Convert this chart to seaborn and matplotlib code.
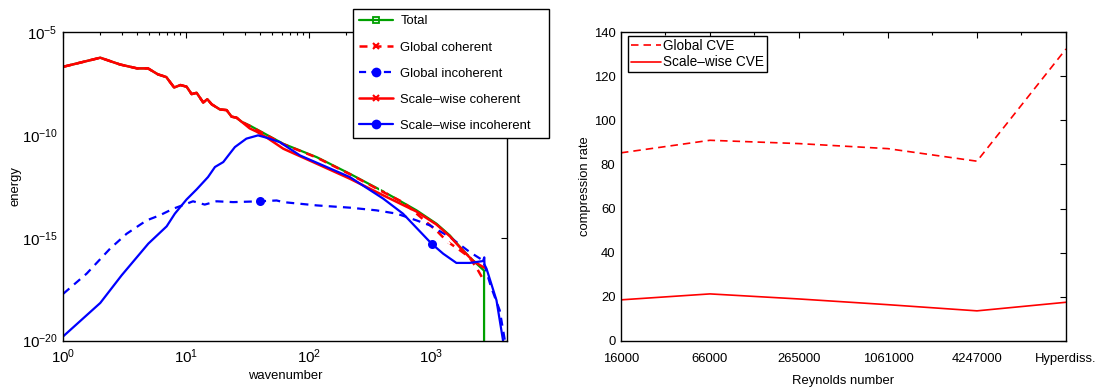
import numpy as np
import pandas as pd
import matplotlib
matplotlib.use("Agg")
import matplotlib.pyplot as plt
from matplotlib.lines import Line2D
from matplotlib.ticker import LogLocator, FixedLocator, NullLocator, NullFormatter
import seaborn as sns

# ---------------- energy spectra (wavenumber, log10 energy) ----------------
# part shared by the total and both coherent spectra at large scales
k_shared = [1, 2, 2.9, 4, 4.9, 5.9, 6.9, 8, 9, 10.1, 11.1, 12.2, 13.8, 14.9,
            16.2, 18.9, 21.4, 23.5, 25.8, 28.4]
logE_shared = [-6.67, -6.23, -6.56, -6.75, -6.75, -7.04, -7.17, -7.68, -7.56,
               -7.64, -8.0, -7.94, -8.41, -8.25, -8.5, -8.75, -8.78, -9.1,
               -9.15, -9.35]

k_total = [33, 62, 116, 216, 404, 755, 1097, 1409, 1808, 2181, 2630, 2680, 2680]
logE_total = [-9.53, -10.42, -11.07, -11.88, -12.74, -13.66, -14.31, -14.88,
              -15.61, -16.1, -16.55, -16.6, -21.0]

k_glob_coh = [33, 62, 116, 216, 404, 600, 855, 1100, 1340, 1700, 2024, 2350, 2680]
logE_glob_coh = [-9.55, -10.44, -11.09, -11.9, -12.77, -13.3, -14.1, -14.65,
                 -15.17, -15.6, -15.93, -16.5, -17.1]

k_glob_inc = [1, 1.55, 2.4, 3.28, 4.77, 6.12, 7.87, 9.8, 11.4, 14.2, 17.7, 24.2,
              40, 54.7, 62, 116, 216, 355, 519, 755, 968, 1409, 2047, 2630,
              3055, 3595, 3960, 4096]
logE_glob_inc = [-17.72, -16.74, -15.53, -14.8, -14.15, -13.9, -13.58, -13.37,
                 -13.22, -13.38, -13.22, -13.26, -13.22, -13.18, -13.26, -13.42,
                 -13.53, -13.66, -13.82, -14.15, -14.39, -14.96, -15.69, -16.1,
                 -17.39, -18.53, -20.0, -21.0]

k_sw_coh = [33, 37.6, 45, 62, 116, 216, 404, 755, 1097, 1409, 1808, 2181, 2680]
logE_sw_coh = [-9.67, -9.83, -10.1, -10.66, -11.39, -12.12, -12.93, -13.72,
               -14.35, -14.92, -15.63, -16.12, -16.45]

k_sw_inc = [1, 2, 2.99, 4.93, 6.95, 8.11, 10.1, 12.2, 15.1, 17.2, 20.1, 22.7, 25,
            31, 38.6, 45, 58, 85, 216, 404, 585, 1000, 1244, 1594, 2047, 2630,
            2690, 2700, 2806, 3383, 3826, 4096]
logE_sw_inc = [-19.79, -18.17, -16.82, -15.28, -14.44, -13.82, -13.13, -12.64,
               -12.04, -11.55, -11.31, -10.9, -10.58, -10.17, -10.01, -10.12,
               -10.34, -10.99, -12.04, -13.09, -13.82, -15.28, -15.77, -16.22,
               -16.22, -16.13, -15.95, -16.3, -16.5, -18.04, -20.0, -21.0]

# wavenumbers carrying a marker on each curve
mark_total = [404]
mark_glob_coh = [1340, 2024]
mark_glob_inc = [40]
mark_sw_inc = [1000]

# ---------------- compression rates ----------------
reynolds_labels = ["16000", "66000", "265000", "1061000", "4247000", "Hyperdiss."]
global_cve = [85.3, 91.0, 89.5, 87.2, 81.5, 132.5]
scalewise_cve = [18.5, 21.2, 18.9, 16.3, 13.5, 17.4]

# ---------------- style ----------------
sns.set_theme(style="white")
plt.rcParams["font.family"] = ["Liberation Sans", "DejaVu Sans"]
plt.rcParams["mathtext.default"] = "regular"
plt.rcParams["axes.edgecolor"] = "black"
plt.rcParams["axes.linewidth"] = 1.0
plt.rcParams["text.color"] = "black"
plt.rcParams["axes.labelcolor"] = "black"
plt.rcParams["xtick.color"] = "black"
plt.rcParams["ytick.color"] = "black"

FS = 9.4
GREEN = "#00a000"
RED = "#ff0000"
BLUE = "#0000ff"

fig = plt.figure(figsize=(11.01, 3.91), dpi=100)
ax1 = fig.add_axes([0.0575, 0.129, 0.4027, 0.788])
ax2 = fig.add_axes([0.564, 0.129, 0.4042, 0.788])


def spectrum(k_list, logE_list):
    k = np.asarray(k_list, dtype=float)
    return pd.DataFrame({"k": k, "E": 10.0 ** np.asarray(logE_list, dtype=float)})


def marker_index(df, ks):
    return [int(np.argmin(np.abs(df["k"].values - kk))) for kk in ks]


df_total = spectrum(k_shared + k_total, logE_shared + logE_total)
df_gc = spectrum(k_shared + k_glob_coh, logE_shared + logE_glob_coh)
df_gi = spectrum(k_glob_inc, logE_glob_inc)
df_sc = spectrum(k_shared + k_sw_coh, logE_shared + logE_sw_coh)
df_si = spectrum(k_sw_inc, logE_sw_inc)

common = dict(x="k", y="E", ax=ax1, sort=False, estimator=None, legend=False)
sns.lineplot(data=df_total, color=GREEN, lw=1.6, marker="s", ms=5, mfc="none",
             mew=1.3, markevery=marker_index(df_total, mark_total), **common)
sns.lineplot(data=df_gc, color=RED, lw=1.8, dashes=(3.2, 2.4), marker="x", ms=5,
             mew=1.5, markevery=marker_index(df_gc, mark_glob_coh), **common)
sns.lineplot(data=df_gi, color=BLUE, lw=1.6, dashes=(3.6, 2.8), marker="o", ms=6.5,
             mew=0, markevery=marker_index(df_gi, mark_glob_inc), **common)
sns.lineplot(data=df_sc, color=RED, lw=1.8, **common)
sns.lineplot(data=df_si, color=BLUE, lw=1.6, marker="o", ms=6.5, mew=0,
             markevery=marker_index(df_si, mark_sw_inc), **common)

ax1.set_xscale("log")
ax1.set_yscale("log")
ax1.set_xlim(1, 4096)
ax1.set_ylim(1e-20, 1e-5)
ax1.xaxis.set_major_locator(LogLocator(base=10, numticks=10))
ax1.xaxis.set_minor_locator(LogLocator(base=10, subs=np.arange(2, 10), numticks=20))
ax1.xaxis.set_minor_formatter(NullFormatter())
ax1.yaxis.set_major_locator(FixedLocator([1e-20, 1e-15, 1e-10, 1e-5]))
ax1.yaxis.set_minor_locator(NullLocator())
ax1.set_xlabel("wavenumber", fontsize=FS, labelpad=3)
ax1.set_ylabel("energy", fontsize=FS, labelpad=0)

legend_handles = [
    Line2D([], [], color=GREEN, lw=1.6, marker="s", ms=5, mfc="none", mew=1.3),
    Line2D([], [], color=RED, lw=1.8, ls=(0, (3.2, 2.4)), marker="x", ms=4.5, mew=1.5),
    Line2D([], [], color=BLUE, lw=1.6, ls=(0, (3.2, 2.4)), marker="o", ms=7, mew=0),
    Line2D([], [], color=RED, lw=1.8, marker="x", ms=4.5, mew=1.5),
    Line2D([], [], color=BLUE, lw=1.6, marker="o", ms=7, mew=0),
]
legend_labels = ["Total", "Global coherent", "Global incoherent",
                 "Scale\u2013wise coherent", "Scale\u2013wise incoherent"]
leg1 = ax1.legend(legend_handles, legend_labels, loc="upper left",
                  bbox_to_anchor=(0.3203, 0.6463, 0.1783, 0.3297),
                  bbox_transform=fig.transFigure, mode="expand",
                  fontsize=FS, frameon=True, fancybox=False, framealpha=1,
                  edgecolor="black", handlelength=2.65, handletextpad=0.55,
                  labelspacing=1.07, borderpad=0.45, borderaxespad=0)
leg1.get_frame().set_linewidth(1.0)
leg1.set_zorder(10)

# ---------------- compression rate panel ----------------
pos = np.arange(len(reynolds_labels))
df_rate = pd.DataFrame({"pos": pos, "global": global_cve, "scalewise": scalewise_cve})
sns.lineplot(data=df_rate, x="pos", y="global", ax=ax2, color=RED, lw=1.2,
             dashes=(4.5, 3.0), label="Global CVE", sort=False, estimator=None)
sns.lineplot(data=df_rate, x="pos", y="scalewise", ax=ax2, color=RED, lw=1.2,
             label="Scale\u2013wise CVE", sort=False, estimator=None)
ax2.set_xlim(pos[0], pos[-1])
ax2.set_ylim(0, 140)
ax2.set_xticks(pos)
ax2.set_xticklabels(reynolds_labels)
ax2.xaxis.set_minor_locator(FixedLocator(pos[:-1] + 0.5))
ax2.set_yticks(np.arange(0, 141, 20))
ax2.set_xlabel("Reynolds number", fontsize=FS, labelpad=7)
ax2.set_ylabel("compression rate", fontsize=FS, labelpad=2)
leg2 = ax2.legend(loc="upper left", bbox_to_anchor=(0.5701, 0.9087),
                  bbox_transform=fig.transFigure, fontsize=9.8, frameon=True,
                  fancybox=False, framealpha=1, edgecolor="black",
                  handlelength=2.2, handletextpad=0.2, labelspacing=0.2,
                  borderpad=0.22, borderaxespad=0)
leg2.get_frame().set_linewidth(1.0)

for ax in (ax1, ax2):
    for s in ax.spines.values():
        s.set_visible(True)
        s.set_color("black")
        s.set_linewidth(1.0)
    ax.tick_params(which="both", direction="in", top=True, right=True,
                   labelsize=FS, color="black", width=0.8)
    ax.tick_params(which="major", length=4.5, pad=4)
    ax.tick_params(which="minor", length=2.5)
    ax.set_facecolor("white")
    ax.grid(False)

ax1.tick_params(which="major", labelsize=10.8)
ax1.tick_params(axis="x", which="major", pad=5)
ax2.tick_params(axis="x", which="major", pad=9)

fig.patch.set_facecolor("white")
fig.savefig("out.png", dpi=100, facecolor="white")
